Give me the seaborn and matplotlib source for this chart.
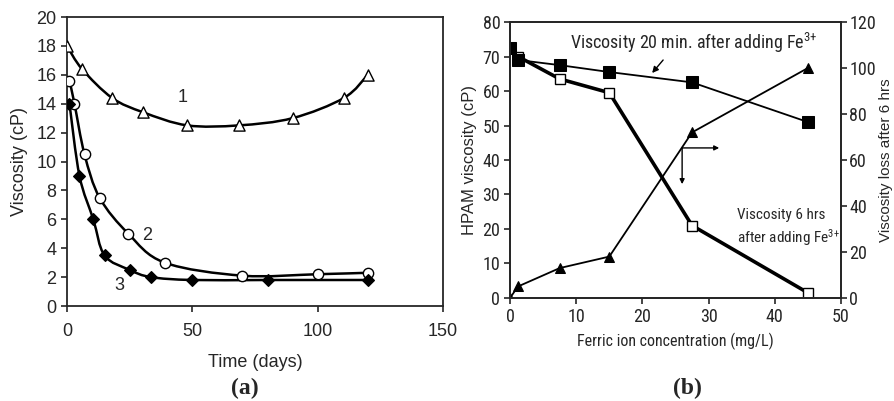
import numpy as np
import matplotlib
matplotlib.use('Agg')
import matplotlib.pyplot as plt
from matplotlib.path import Path
from matplotlib.patches import PathPatch
import seaborn as sns

# (a) viscosity vs time, three samples
days_1 = [0, 6, 18, 30.5, 48, 68.5, 90, 110.5, 120]
visc_1 = [18.0, 16.4, 14.4, 13.4, 12.5, 12.5, 13.0, 14.4, 16.0]
days_2 = [1, 3, 7, 13, 24.5, 39, 70, 100, 120]
visc_2 = [15.6, 14.0, 10.5, 7.5, 5.0, 3.0, 2.1, 2.2, 2.3]
days_3 = [1, 5, 10.5, 15, 25, 33.5, 50, 80, 120]
visc_3 = [14.0, 9.0, 6.0, 3.5, 2.5, 2.0, 1.8, 1.8, 1.8]

# (b) HPAM viscosity vs ferric ion concentration
fe_conc = [0, 1.2, 7.5, 15, 27.5, 45]
visc_20min = [72.5, 69.0, 67.5, 65.5, 62.5, 51.0]
visc_6hrs = [72.5, 70.0, 63.5, 59.5, 21.0, 1.5]
visc_loss = [0, 5, 13, 18, 72, 100]

sns.set_style('ticks')
plt.rcParams['font.family'] = ['Liberation Sans', 'DejaVu Sans']
plt.rcParams['mathtext.default'] = 'regular'
narrow = ['Roboto Condensed', 'Liberation Sans']


def smooth_line(ax, xs, ys, lw=1.8):
    # Excel-style smoothed line: cubic bezier through the points
    pts = np.column_stack([xs, ys]).astype(float)
    n = len(pts)
    verts = [pts[0]]
    codes = [Path.MOVETO]
    for i in range(n - 1):
        p0 = pts[i - 1] if i > 0 else pts[i]
        p1 = pts[i]
        p2 = pts[i + 1]
        p3 = pts[i + 2] if i + 2 < n else pts[i + 1]
        verts += [p1 + (p2 - p0) / 6, p2 - (p3 - p1) / 6, p2]
        codes += [Path.CURVE4] * 3
    ax.add_patch(PathPatch(Path(verts, codes), fill=False, lw=lw, color='black', zorder=2))


fig = plt.figure(figsize=(8.94, 4.01), dpi=100)
ax1 = fig.add_axes([0.0749, 0.2369, 0.4206, 0.7207])
ax2 = fig.add_axes([0.5705, 0.2569, 0.3702, 0.6882])

# ---- panel (a)
smooth_line(ax1, days_1, visc_1)
smooth_line(ax1, days_2, visc_2)
smooth_line(ax1, days_3, visc_3)
sns.scatterplot(x=days_1, y=visc_1, ax=ax1, marker='^', s=65, color='white',
                edgecolor='black', linewidth=1.0, zorder=3)
sns.scatterplot(x=days_2, y=visc_2, ax=ax1, marker='o', s=55, color='white',
                edgecolor='black', linewidth=1.0, zorder=3)
sns.scatterplot(x=days_3, y=visc_3, ax=ax1, marker='D', s=35, color='black',
                edgecolor='black', linewidth=1.0, zorder=3)
ax1.set_xlim(0, 150)
ax1.set_ylim(0, 20)
ax1.set_xticks([0, 50, 100, 150])
ax1.set_yticks(range(0, 21, 2))
ax1.set_xlabel('Time (days)', fontsize=13, labelpad=10)
ax1.set_ylabel('Viscosity (cP)', fontsize=13, labelpad=6)
ax1.tick_params(labelsize=13, direction='out', length=4, width=1.2)
ax1.tick_params(axis='x', pad=8)
ax1.text(46, 14.4, '1', fontsize=13, ha='center', va='center')
ax1.text(32, 4.9, '2', fontsize=13, ha='center', va='center')
ax1.text(21, 1.4, '3', fontsize=13, ha='center', va='center')
for sp in ax1.spines.values():
    sp.set_linewidth(1.3)

# ---- panel (b)
sns.lineplot(x=fe_conc, y=visc_20min, ax=ax2, estimator=None, sort=False, color='black',
             lw=1.3, marker='s', markersize=8, markerfacecolor='black', markeredgecolor='black', zorder=3)
sns.lineplot(x=fe_conc, y=visc_6hrs, ax=ax2, estimator=None, sort=False, color='black',
             lw=2.6, marker='s', markersize=7, markerfacecolor='white', markeredgecolor='black',
             markeredgewidth=1.0, zorder=2)
ax2.set_xlim(0, 50)
ax2.set_ylim(0, 80)
ax2.set_xticks(range(0, 51, 10))
ax2.set_yticks(range(0, 81, 10))
ax2.set_xlabel('Ferric ion concentration (mg/L)', fontsize=11.5, family=narrow, labelpad=5)
ax2.set_ylabel('HPAM viscosity (cP)', fontsize=12, labelpad=4)
ax2.tick_params(labelsize=13, direction='out', length=4, width=1.2, pad=3)
for lab in ax2.get_xticklabels() + ax2.get_yticklabels():
    lab.set_family(narrow)

ax3 = ax2.twinx()
sns.lineplot(x=fe_conc, y=visc_loss, ax=ax3, estimator=None, sort=False, color='black',
             lw=1.3, marker='^', markersize=7, markerfacecolor='black', markeredgecolor='black')
ax3.set_ylim(0, 120)
ax3.set_yticks(range(0, 121, 20))
ax3.set_ylabel('Viscosity loss after 6 hrs', fontsize=11, labelpad=2)
ax3.tick_params(labelsize=13, direction='out', length=4, width=1.2, pad=2)
for lab in ax3.get_yticklabels():
    lab.set_family(narrow)
for sp in list(ax2.spines.values()) + list(ax3.spines.values()):
    sp.set_linewidth(1.3)

ax2.text(9.1, 74, r'Viscosity 20 min. after adding Fe$^{3{+}}$', fontsize=13,
         family=narrow, va='center', ha='left')
ax2.annotate('', xy=(21.2, 64.6), xytext=(23.4, 69.6),
             arrowprops=dict(arrowstyle='-|>', color='black', lw=1.0, mutation_scale=9))
ax2.annotate('', xy=(31.6, 43.5), xytext=(26.0, 43.5),
             arrowprops=dict(arrowstyle='-|>', color='black', lw=1.0, mutation_scale=7,
                             shrinkA=0, shrinkB=0))
ax2.annotate('', xy=(26.0, 33.0), xytext=(26.0, 43.5),
             arrowprops=dict(arrowstyle='-|>', color='black', lw=1.0, mutation_scale=7,
                             shrinkA=0, shrinkB=0))
ax2.text(34.3, 24, 'Viscosity 6 hrs', fontsize=11, family=narrow, va='center', ha='left')
ax2.text(34.3, 17.5, r'after adding Fe$^{3{+}}$', fontsize=11, family=narrow,
         va='center', ha='left')

# panel letters
fig.text(245 / 894, 1 - 388 / 401, '(a)', fontsize=17, fontweight='bold',
         family='Liberation Serif', ha='center', va='center')
fig.text(687 / 894, 1 - 388 / 401, '(b)', fontsize=17, fontweight='bold',
         family='Liberation Serif', ha='center', va='center')

fig.savefig('out.png', dpi=100)
